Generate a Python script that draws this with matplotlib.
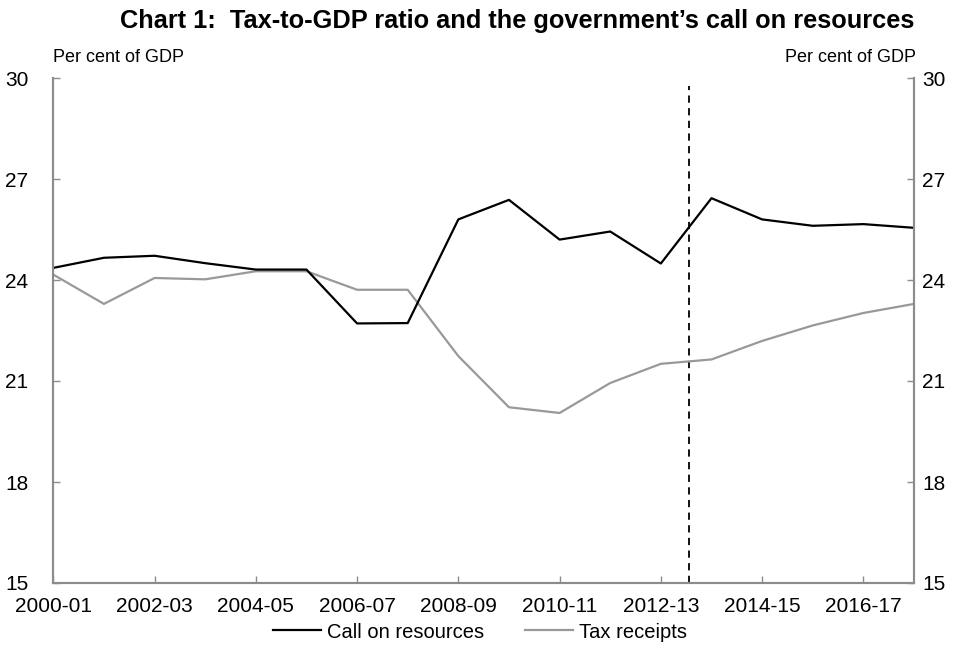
import matplotlib
matplotlib.use("Agg")
import matplotlib.pyplot as plt

plt.rcParams['font.family'] = ['Liberation Sans', 'DejaVu Sans']

years = ["2000-01", "2001-02", "2002-03", "2003-04", "2004-05", "2005-06",
         "2006-07", "2007-08", "2008-09", "2009-10", "2010-11", "2011-12",
         "2012-13", "2013-14", "2014-15", "2015-16", "2016-17", "2017-18"]
call_on_resources = [24.36, 24.66, 24.72, 24.50, 24.31, 24.31, 22.71, 22.72,
                     25.80, 26.38, 25.20, 25.44, 24.49, 26.43, 25.80, 25.61,
                     25.66, 25.55]
tax_receipts = [24.16, 23.29, 24.06, 24.02, 24.26, 24.26, 23.71, 23.71,
                21.74, 20.22, 20.05, 20.94, 21.51, 21.64, 22.19, 22.65,
                23.02, 23.29]
forecast_start = 12.56
y_ticks = [15, 18, 21, 24, 27, 30]

W, H = 962, 646
fig = plt.figure(figsize=(W/100, H/100), dpi=100)
ax_left, ax_right, ax_top, ax_bottom = 53.3, 914, 78, 583
ax = fig.add_axes([ax_left/W, 1-ax_bottom/H, (ax_right-ax_left)/W, (ax_bottom-ax_top)/H])
x = list(range(len(years)))

axis_grey = '#8c8c8c'
ax.plot(x, call_on_resources, color='black', lw=1.6, label='Call on resources', zorder=3)
ax.plot(x, tax_receipts, color='#999999', lw=1.6, label='Tax receipts', zorder=2)
ax.axvline(forecast_start, ymin=0, ymax=0.984, color='black', lw=1.3,
           linestyle=(0, (4, 3)), zorder=1)

ax.set_xlim(0, len(years) - 1)
ax.set_ylim(15, 30)
ax.set_yticks(y_ticks)
ax.set_yticklabels([str(v) for v in y_ticks])
ax.set_xticks(x[::2])
ax.set_xticklabels(years[::2])

ax2 = ax.twinx()
ax2.set_ylim(15, 30)
ax2.set_yticks(y_ticks)
ax2.set_yticklabels([str(v) for v in y_ticks])

for a in (ax, ax2):
    a.spines['top'].set_visible(False)
    for s in ['left', 'right', 'bottom']:
        a.spines[s].set_color(axis_grey)
        a.spines[s].set_linewidth(1.5)

ax.tick_params(axis='x', direction='in', length=5, width=1, color=axis_grey,
               labelsize=15, pad=10, labelcolor='black')
ax.tick_params(axis='y', direction='in', length=5, width=1, color=axis_grey,
               labelsize=15, pad=18, left=True, right=False,
               labelleft=True, labelright=False, labelcolor='black')
ax2.tick_params(axis='y', direction='in', length=5, width=1, color=axis_grey,
                labelsize=15, pad=6, left=False, right=True,
                labelleft=False, labelright=True, labelcolor='black')

fig.text(517/W, 1-21/H, 'Chart 1:  Tax-to-GDP ratio and the government\u2019s call on resources',
         ha='center', va='center', fontsize=18.3, fontweight='bold')
fig.text(53/W, 1-57/H, 'Per cent of GDP', ha='left', va='center', fontsize=13)
fig.text(916/W, 1-57/H, 'Per cent of GDP', ha='right', va='center', fontsize=13)

fig.legend(loc='center', bbox_to_anchor=(480/W, 1-632/H), ncol=2, frameon=False,
           fontsize=14.5, handlelength=2.4, columnspacing=2.0, handletextpad=0.3,
           borderaxespad=0, borderpad=0)

fig.savefig('out.png', dpi=100)
